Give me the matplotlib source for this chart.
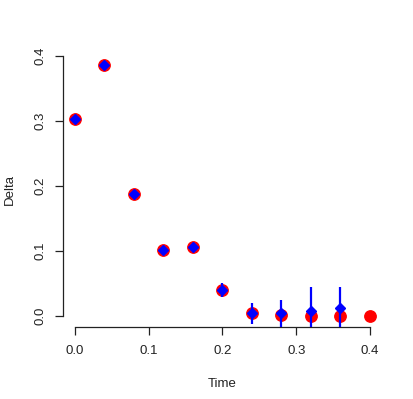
import matplotlib
matplotlib.use('Agg')
import matplotlib.pyplot as plt

# data
time = [0.0, 0.04, 0.08, 0.12, 0.16, 0.2, 0.24, 0.28, 0.32, 0.36, 0.4]
delta_true = [0.303, 0.387, 0.188, 0.101, 0.107, 0.040, 0.004, 0.0015, 0.0, 0.0, 0.0]
time_est = [0.0, 0.04, 0.08, 0.12, 0.16, 0.2, 0.24, 0.28, 0.32, 0.36]
delta_est = [0.303, 0.387, 0.188, 0.101, 0.107, 0.040, 0.004, 0.004, 0.008, 0.012]
delta_err = [0.002, 0.002, 0.002, 0.002, 0.002, 0.011, 0.016, 0.021, 0.037, 0.033]

xticks = [0.0, 0.1, 0.2, 0.3, 0.4]
yticks = [0.0, 0.1, 0.2, 0.3, 0.4]

plt.rcParams['font.family'] = ['Liberation Sans', 'DejaVu Sans']

fig = plt.figure(figsize=(4.13, 3.99), dpi=100)
ax = fig.add_axes([0.1525, 0.181, 0.772, 0.686])

ax.plot(time, delta_true, 'o', color='red', markersize=8.2, zorder=2)
ax.errorbar(time_est, delta_est, yerr=delta_err, fmt='D', color='blue',
            ecolor='blue', elinewidth=1.6, markersize=5.5, capsize=0, zorder=3)

ax.set_xlim(-0.016, 0.416)
ax.set_ylim(-0.0165, 0.4046)

for s in ['top', 'right']:
    ax.spines[s].set_visible(False)
ax.spines['bottom'].set_bounds(0.0, 0.4)
ax.spines['left'].set_bounds(0.0, 0.4)
for s in ['bottom', 'left']:
    ax.spines[s].set_color('#222222')
    ax.spines[s].set_linewidth(0.9)

ax.set_xticks(xticks)
ax.set_xticklabels(['%.1f' % t for t in xticks])
ax.set_yticks(yticks)
ax.set_yticklabels(['%.1f' % t for t in yticks], rotation=90, va='center')
ax.tick_params(direction='out', length=6, width=0.9, color='#222222',
               labelsize=9.5, labelcolor='#222222', pad=7)
ax.tick_params(axis='y', pad=6)

ax.set_xlabel('Time', fontsize=9.5, color='#222222', labelpad=15)
ax.set_ylabel('Delta', fontsize=9.5, color='#222222', labelpad=13)

plt.savefig('out.png', dpi=100)
